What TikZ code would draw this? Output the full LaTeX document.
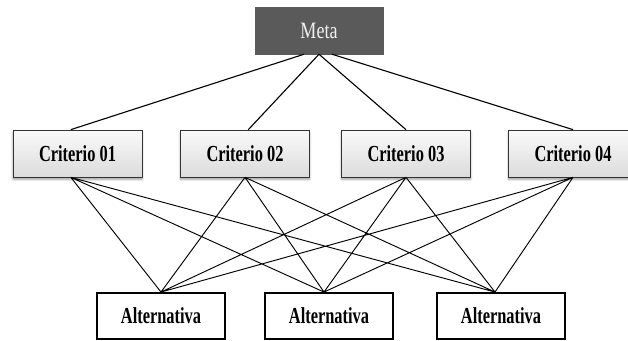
\documentclass[tikz,border=0pt]{standalone}
\usepackage{fontspec}
\setmainfont{Liberation Serif}
\usepackage{tikz}
\usetikzlibrary{shadows.blur}
\definecolor{metagray}{RGB}{90,90,90}
\newcommand{\tall}[2][1.4]{\scalebox{1}[#1]{#2}}

\begin{document}
\begin{tikzpicture}[
    meta/.style={fill=metagray, draw=metagray, minimum width=3.84cm, minimum height=1.41cm,
        text=white!94!black, font=\fontsize{15.4}{16}\selectfont},
    criterio/.style={draw=black!80, line width=0.6pt, top color=gray!4, bottom color=gray!28,
        minimum width=3.87cm, minimum height=1.41cm, font=\fontsize{14}{15}\selectfont\bfseries,
        blur shadow={shadow xshift=0pt, shadow yshift=-2pt, shadow blur steps=6}},
    alternativa/.style={draw=black, line width=1.6pt, fill=white, minimum width=3.84cm,
        minimum height=1.38cm, font=\fontsize{14}{15}\selectfont\bfseries},
    enlace/.style={line width=0.95pt}]
    \useasboundingbox (0,0) rectangle (18.84,10.23);
    % nivel superior
    \node [meta] (meta) at (9.57,9.315) {\tall[1.3]{Meta}};
    % criterios
    \node [criterio] (c1) at (2.325,5.625) {\tall{Criterio 01}};
    \node [criterio] (c2) at (7.35,5.625) {\tall{Criterio 02}};
    \node [criterio] (c3) at (12.18,5.625) {\tall{Criterio 03}};
    \node [criterio] (c4) at (17.19,5.625) {\tall{Criterio 04}};
    % alternativas
    \node [alternativa] (a1) at (4.83,0.75) {\tall{Alternativa}};
    \node [alternativa] (a2) at (9.87,0.75) {\tall{Alternativa}};
    \node [alternativa] (a3) at (15.03,0.75) {\tall{Alternativa}};
    % puntos de union
    \coordinate (c1s) at ([xshift=-0.2cm]c1.south);
    \coordinate (a2n) at ([xshift=-0.15cm]a2.north);
    \coordinate (a3n) at ([xshift=-0.18cm]a3.north);
    % enlaces
    \draw [enlace] ([xshift=-0.45cm]meta.south) -- ([xshift=-0.2cm]c1.north)
        (meta.south) -- ([xshift=0.1cm]c2.north)
        (meta.south) -- (c3.north)
        ([xshift=0.39cm]meta.south) -- (c4.north);
    \draw [enlace, line width=0.8pt] (c1s) -- (a1.north) (c1s) -- (a2n) (c1s) -- (a3n)
        (c2.south) -- (a1.north) (c2.south) -- (a2n) (c2.south) -- (a3n)
        (c3.south) -- (a1.north) (c3.south) -- (a2n) (c3.south) -- (a3n)
        (c4.south) -- (a1.north) (c4.south) -- (a2n) (c4.south) -- (a3n);
\end{tikzpicture}
\end{document}
